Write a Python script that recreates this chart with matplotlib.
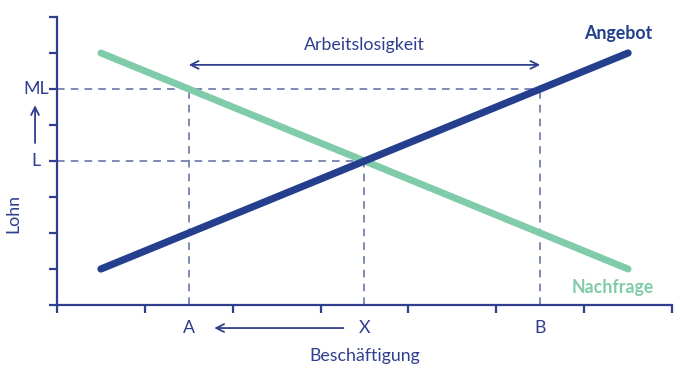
import matplotlib
matplotlib.use("Agg")
import matplotlib.pyplot as plt

plt.rcParams['font.family'] = ['Lato', 'DejaVu Sans']

navy = "#233f8e"
axis_col = "#2f3e8e"
dash_col = "#5d68a6"
green = "#80cbaa"

# Angebot (supply) and Nachfrage (demand) line endpoints
supply_x = [0.5, 6.5]
supply_y = [1, 7]
demand_x = [0.5, 6.5]
demand_y = [7, 1]

# marked quantities and wages
qty_labels = ["A", "X", "B"]
qty_x = [1.5, 3.5, 5.5]
wage_labels = ["ML", "L"]
wage_y = [6, 4]

fs = 12.8

fig = plt.figure(figsize=(6.8, 3.75), dpi=100)
ax = fig.add_axes([57 / 680, 70 / 375, 615 / 680, 288 / 375])
ax.set_xlim(0, 7)
ax.set_ylim(0, 8)

for side in ["top", "right"]:
    ax.spines[side].set_visible(False)
for side in ["left", "bottom"]:
    ax.spines[side].set_color(axis_col)
    ax.spines[side].set_linewidth(1.6)
ax.set_xticks(range(8))
ax.set_yticks(range(9))
ax.set_xticklabels([])
ax.set_yticklabels([])
ax.tick_params(direction="out", length=6, width=1.6, color=axis_col)

dash = dict(color=dash_col, lw=1.1, ls=(0, (5, 4)), zorder=1)
# dashed guides
ax.plot([0, qty_x[2]], [wage_y[0]] * 2, **dash)
ax.plot([0, qty_x[1]], [wage_y[1]] * 2, **dash)
ax.plot([qty_x[0]] * 2, [0, wage_y[0]], **dash)
ax.plot([qty_x[2]] * 2, [0, wage_y[0]], **dash)
ax.plot([qty_x[1]] * 2, [0, wage_y[1]], **dash)

ax.plot(demand_x, demand_y, color=green, lw=5, solid_capstyle="round", zorder=3)
ax.plot(supply_x, supply_y, color=navy, lw=5.2, solid_capstyle="round", zorder=4)

ax.annotate("", xy=(qty_x[2], 6.67), xytext=(qty_x[0], 6.67),
            arrowprops=dict(arrowstyle="<->", color=axis_col, lw=1.3,
                            mutation_scale=14, shrinkA=0, shrinkB=0))
ax.text(3.5, 7.22, "Arbeitslosigkeit", color=axis_col, fontsize=fs,
        ha="center", va="center")

ax.text(6.39, 7.55, "Angebot", color=navy, fontsize=fs, fontweight="bold",
        ha="center", va="center")
ax.text(6.32, 0.5, "Nachfrage", color=green, fontsize=fs, fontweight="bold",
        ha="center", va="center")

for lab, xv in zip(qty_labels, qty_x):
    ax.text(xv, -0.64, lab, color=axis_col, fontsize=fs, ha="center",
            va="center", clip_on=False)
ax.annotate("", xy=(1.79, -0.64), xytext=(3.26, -0.64), annotation_clip=False,
            arrowprops=dict(arrowstyle="->", color=axis_col, lw=1.3,
                            mutation_scale=14, shrinkA=0, shrinkB=0))
ax.text(3.5, -1.42, "Beschäftigung", color=axis_col, fontsize=fs,
        ha="center", va="center", clip_on=False)

for lab, yv in zip(wage_labels, wage_y):
    ax.text(-0.24, yv, lab, color=axis_col, fontsize=fs, ha="center",
            va="center", clip_on=False)
ax.annotate("", xy=(-0.25, 5.55), xytext=(-0.25, 4.5), annotation_clip=False,
            arrowprops=dict(arrowstyle="->", color=axis_col, lw=1.3,
                            mutation_scale=14, shrinkA=0, shrinkB=0))
ax.text(-0.5, 2.55, "Lohn", color=axis_col, fontsize=fs, rotation=90,
        ha="center", va="center", clip_on=False)

fig.savefig("out.png", dpi=100)
